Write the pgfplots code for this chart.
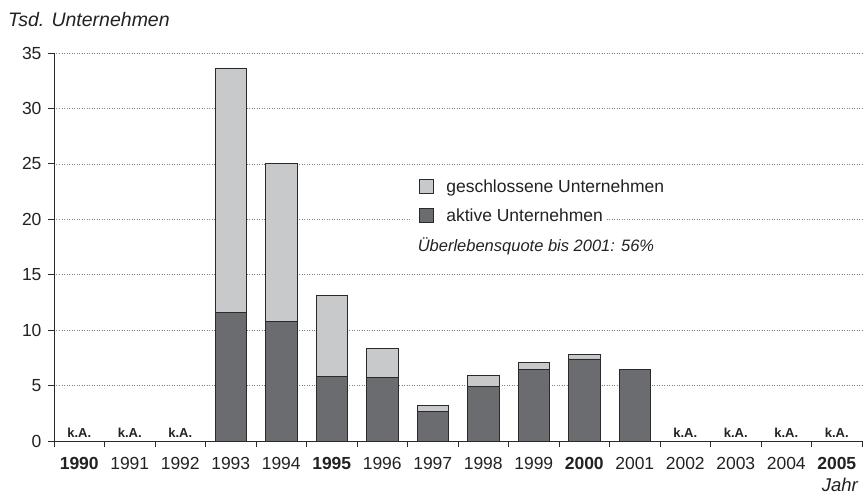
\documentclass[border=0pt]{standalone}
\usepackage{fontspec}
\setmainfont{Liberation Sans}
\usepackage{pgfplots}
\pgfplotsset{compat=1.18}
\definecolor{dark}{HTML}{6B6C70}
\definecolor{light}{HTML}{C8C9CB}
\definecolor{edge}{HTML}{2A2A2A}
\definecolor{txt}{HTML}{222222}
\newcommand\fs[1]{\fontsize{#1}{#1}\selectfont}
\begin{document}
\begin{tikzpicture}
\begin{axis}[name=ax, scale only axis, width=808pt, height=388pt,
 xmin=-0.5, xmax=15.5, ymin=0, ymax=35,
 axis x line=bottom, axis y line=left,
 axis line style={-, line width=0.8pt, color=edge},
 tick align=outside, major tick length=6pt,
 tick style={edge, line width=0.8pt},
 ytick={0,5,...,35},
 ymajorgrids, grid style={dash pattern=on 1pt off 1.5pt, black!50, line width=0.6pt},
 xtick={-0.5,0.5,...,15.5}, xticklabels={},
 extra x ticks={0,1,...,15},
 extra x tick labels={\textbf{1990},1991,1992,1993,1994,\textbf{1995},1996,1997,1998,1999,\textbf{2000},2001,2002,2003,2004,\textbf{2005}},
 extra x tick style={major tick length=0pt, tick label style={yshift=-13pt}},
 /pgf/number format/assume math mode=true,
 ticklabel style={font=\fs{17.5}, text=txt},
 yticklabel style={xshift=-3pt},
 ybar stacked, bar width=0.62,
 legend style={at={(0.437,0.69)}, anchor=north west, draw=none, fill=none,
   font=\fs{17.5}, text=txt, row sep=9pt, inner sep=3pt,
   nodes={fill=white, inner sep=3pt}},
 legend cell align=left, reverse legend,
 legend image code/.code={\path[fill=white,draw=none] (-9pt,-9pt) rectangle (24pt,9pt);\draw[#1, line width=0.8pt] (0pt,-7pt) rectangle (14pt,7pt);},
]
\addplot[fill=dark, draw=edge, line width=0.8pt] coordinates {
 (3,11.6) (4,10.8) (5,5.85) (6,5.7) (7,2.65) (8,4.9) (9,6.45) (10,7.4) (11,6.45)};
\addlegendentry{aktive Unternehmen}
\addplot[fill=light, draw=edge, line width=0.8pt] coordinates {
 (3,22.05) (4,14.25) (5,7.25) (6,2.65) (7,0.55) (8,1.0) (9,0.6) (10,0.4) (11,0)};
\addlegendentry{geschlossene Unternehmen}
\node[anchor=west, inner sep=0, font=\itshape\fs{16.5}, text=txt] at (axis cs:6.7,17.6) {Überlebensquote bis 2001: 56\%};
\node[above, inner sep=3pt, font=\bfseries\fs{13}, text=txt] at (axis cs:0,0) {k.A.};
\node[above, inner sep=3pt, font=\bfseries\fs{13}, text=txt] at (axis cs:1,0) {k.A.};
\node[above, inner sep=3pt, font=\bfseries\fs{13}, text=txt] at (axis cs:2,0) {k.A.};
\node[above, inner sep=3pt, font=\bfseries\fs{13}, text=txt] at (axis cs:12,0) {k.A.};
\node[above, inner sep=3pt, font=\bfseries\fs{13}, text=txt] at (axis cs:13,0) {k.A.};
\node[above, inner sep=3pt, font=\bfseries\fs{13}, text=txt] at (axis cs:14,0) {k.A.};
\node[above, inner sep=3pt, font=\bfseries\fs{13}, text=txt] at (axis cs:15,0) {k.A.};
\end{axis}
\node[anchor=base west, inner sep=0, font=\itshape\fs{19.5}, text=txt] at ([shift={(-46pt,414pt)}]ax.south west) {Tsd. Unternehmen};
\node[anchor=base east, inner sep=0, font=\itshape\fs{18.5}, text=txt] at ([shift={(804pt,-50pt)}]ax.south west) {Jahr};
\pgfresetboundingbox
\path (ax.south west) ++(-54pt,-55pt) rectangle ++(864pt,496pt);
\end{tikzpicture}
\end{document}
